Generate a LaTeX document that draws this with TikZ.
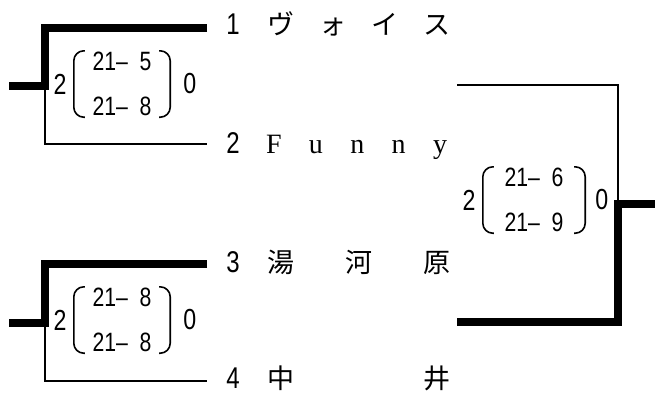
\documentclass[tikz,border=0pt]{standalone}
\usepackage{fontspec}
\usepackage{tikz}
\usetikzlibrary{positioning}
\newfontfamily\numfont[FakeStretch=0.8]{Liberation Sans}
\newfontfamily\jpfont{Noto Sans CJK JP}
\newfontfamily\serifname{Liberation Serif}

\begin{document}
\begin{tikzpicture}[x=1pt,y=-1pt,
        thickline/.style={line width=8pt},
        thinline/.style={line width=2.8pt},
        paren/.style={line width=1.6pt,rounded corners=10pt},
        teamno/.style={inner sep=0pt,font=\numfont\fontsize{30}{30}\selectfont},
        teamname/.style={inner sep=0pt,font=\jpfont\fontsize{27}{27}\selectfont},
        games/.style={inner sep=0pt,minimum width=96pt,minimum height=66pt,
            align=center,font=\numfont\fontsize{26.5}{45}\selectfont},
        sets/.style={inner sep=0pt,font=\numfont\fontsize{29}{29}\selectfont}]
    \useasboundingbox (0,0) rectangle (655,394);

    % Line ends and joints
    \coordinate (e1) at (207,28);
    \coordinate (e2) at (207,144);
    \coordinate (e3) at (207,264);
    \coordinate (e4) at (207,381);
    \coordinate (e5) at (457,85);
    \coordinate (e6) at (457,322);
    \coordinate (j1) at (45,86);
    \coordinate (j2) at (45,323);
    \coordinate (j3) at (618,204);
    \coordinate (s1) at (9,86);
    \coordinate (s2) at (9,323);
    \coordinate (s3) at (655,204);

    % First round
    \draw[thickline] (e1) -| (j1) -- (s1);
    \draw[thinline] (j1) |- (e2);
    \draw[thickline] (e3) -| (j2) -- (s2);
    \draw[thinline] (j2) |- (e4);
    % Final
    \draw[thinline] (e5) -| (j3);
    \draw[thickline] (e6) -| (j3) -- (s3);

    % Teams
    \node[teamno] (no1) at (233,24) {1};
    \node[teamname,base right=27pt of no1] (name1) {\makebox[183pt][s]{ヴ ォ イ ス}};
    \node[teamno] (no2) at (233,143) {2};
    \node[teamname,font=\serifname\fontsize{28}{28}\selectfont,base right=26pt of no2] (name2) {\makebox[181pt][s]{F u n n y}};
    \node[teamno] (no3) at (233,262) {3};
    \node[teamname,base right=27pt of no3] (name3) {\makebox[183pt][s]{湯 河 原}};
    \node[teamno] (no4) at (233,378) {4};
    \node[teamname,base right=27pt of no4] (name4) {\makebox[183pt][s]{中 井}};

    % Scores
    \node[games] (g1) at (122,84) {\makebox[59pt][s]{21– 5}\\\makebox[59pt][s]{21– 8}};
    \node[sets,left=7pt of g1] (w1) {2};
    \node[sets,right=13pt of g1] (l1) {0};
    \node[games] (g2) at (122,320) {\makebox[59pt][s]{21– 8}\\\makebox[59pt][s]{21– 8}};
    \node[sets,left=7pt of g2] (w2) {2};
    \node[sets,right=13pt of g2] (l2) {0};
    \node[games,minimum width=102pt] (g3) at (534,200) {\makebox[59pt][s]{21– 6}\\\makebox[59pt][s]{21– 9}};
    \node[sets,left=7pt of g3] (w3) {2};
    \node[sets,right=10pt of g3] (l3) {0};

    % Brackets round the games
    \foreach \g in {g1,g2,g3} {
        \draw[paren] ([xshift=11pt]\g.north west) -- (\g.north west) -- (\g.south west) -- ([xshift=11pt]\g.south west);
        \draw[paren] ([xshift=-11pt]\g.north east) -- (\g.north east) -- (\g.south east) -- ([xshift=-11pt]\g.south east);
    }
\end{tikzpicture}
\end{document}
